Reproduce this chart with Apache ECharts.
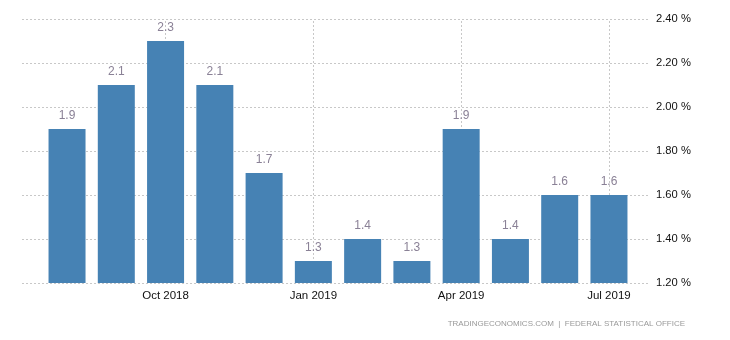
<!DOCTYPE html>
<html>
<head>
<meta charset="utf-8">
<script src="https://cdn.jsdelivr.net/npm/echarts@6/dist/echarts.min.js"></script>
<style>html,body{margin:0;padding:0;background:#fff;}#c{width:730px;height:340px;}</style>
</head>
<body>
<div id="c"></div>
<script>
var categories = ['Aug 2018','Sep 2018','Oct 2018','Nov 2018','Dec 2018','Jan 2019','Feb 2019','Mar 2019','Apr 2019','May 2019','Jun 2019','Jul 2019'];
var values = [1.9, 2.1, 2.3, 2.1, 1.7, 1.3, 1.4, 1.3, 1.9, 1.4, 1.6, 1.6];
var xTickLabels = ['Oct 2018','Jan 2019','Apr 2019','Jul 2019'];
var yMin = 1.2, yMax = 2.4, yStep = 0.2;
var footer = 'TRADINGECONOMICS.COM  |  FEDERAL STATISTICAL OFFICE';

var chart = echarts.init(document.getElementById('c'), null, {renderer: 'canvas'});
var font = 'Arial, "Liberation Sans", sans-serif';
var dotted = {color: '#c8c8c8', type: [2, 2], width: 1};
chart.setOption({
  animation: false,
  backgroundColor: '#fff',
  grid: [
    {left: 22, right: 80, top: 19, bottom: 57},
    {left: 42.4, right: 96.4, top: 19, bottom: 57}
  ],
  xAxis: [
    {gridIndex: 0, type: 'value', show: false, min: 0, max: 1},
    {gridIndex: 1, type: 'category', data: categories,
      axisLine: {show: false}, axisTick: {show: false}, splitLine: {show: false},
      axisLabel: {
        margin: 7, color: '#111', fontFamily: font, fontSize: 11.5,
        interval: function (i, v) { return xTickLabels.indexOf(v) >= 0; }
      }
    }
  ],
  yAxis: [
    {gridIndex: 0, type: 'value', position: 'right', min: yMin, max: yMax, interval: yStep,
      axisLine: {show: false}, axisTick: {show: false},
      splitLine: {show: true, lineStyle: dotted},
      axisLabel: {margin: 6, color: '#111', fontFamily: font, fontSize: 11.2,
        formatter: function (v) { return v.toFixed(2) + ' %'; }}
    },
    {gridIndex: 1, type: 'value', show: false, min: yMin, max: yMax, interval: yStep, splitLine: {show: false}}
  ],
  series: [{
    type: 'bar', xAxisIndex: 1, yAxisIndex: 1, data: values, barWidth: 37, z: 3,
    itemStyle: {color: '#4682b4'},
    label: {show: true, position: 'top', distance: 7, color: '#8a8196', fontFamily: font, fontSize: 12,
      formatter: function (p) { return p.value.toFixed(1); }},
    markLine: {
      z: 1, silent: true, symbol: ['none', 'none'], label: {show: false},
      lineStyle: dotted,
      data: xTickLabels.map(function (c) { return {xAxis: c}; })
    }
  }],
  graphic: [{
    type: 'text', right: 45, top: 320,
    style: {text: footer, fill: '#999', font: '8px ' + font}
  }]
});
</script>
</body>
</html>
